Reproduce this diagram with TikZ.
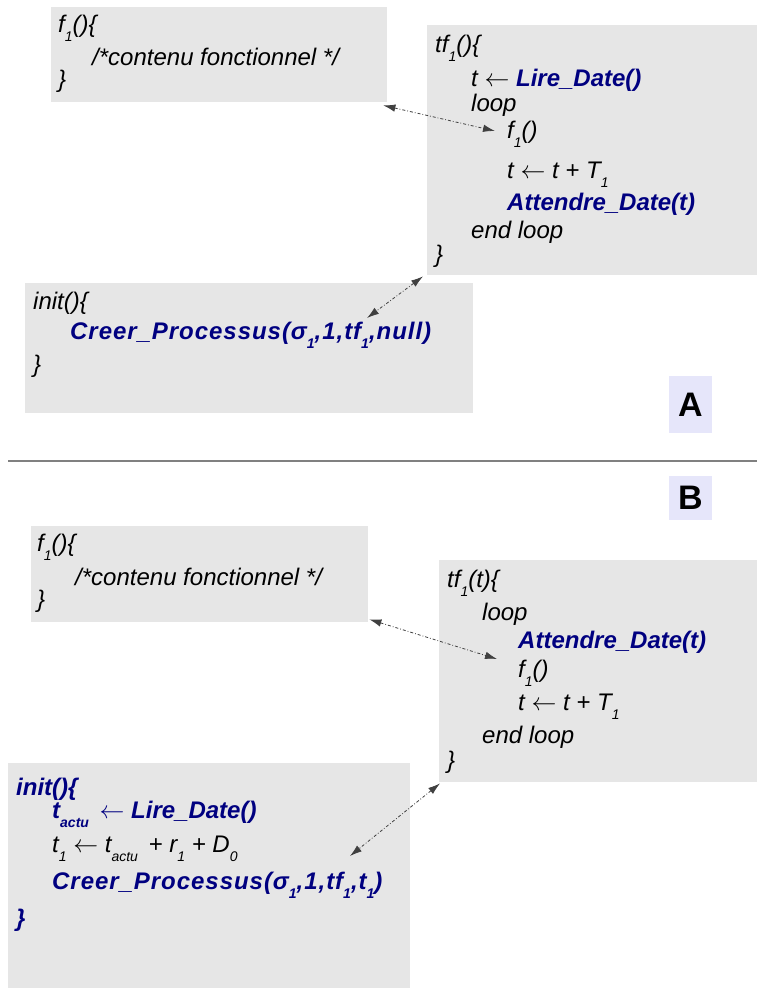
\documentclass[tikz,border=0pt]{standalone}
\usepackage{fontspec}
\setmainfont{Liberation Sans}
\usetikzlibrary{arrows.meta}
\definecolor{boxgray}{HTML}{E6E6E6}
\definecolor{navyblue}{HTML}{000080}
\definecolor{lavender}{HTML}{E6E6FA}
\definecolor{linkgray}{HTML}{404040}
\newcommand\sbs[1]{\raisebox{-9pt}{\fontsize{14pt}{14pt}\selectfont #1}}
\newcommand\kwd[1]{{\color{navyblue}\bfseries #1}}
\tikzset{
  box/.style={fill=boxgray, inner sep=0pt, anchor=north west},
  code/.style={anchor=base west, inner sep=0pt, font=\fontsize{24pt}{29pt}\selectfont\itshape},
  kw/.style={code, text=navyblue, font=\fontsize{24pt}{29pt}\selectfont\bfseries\itshape},
  kwwide/.style={kw, font=\fontsize{24pt}{29pt}\selectfont\bfseries\itshape\addfontfeature{LetterSpace=4}},
  tag/.style={fill=lavender, inner sep=0pt, font=\fontsize{34pt}{36pt}\selectfont\bfseries},
  link/.style={draw=linkgray, line width=0.8pt, dash dot,
    {Latex[length=12pt,width=7.5pt]}-{Latex[length=12pt,width=7.5pt]}},
}
\begin{document}
\begin{tikzpicture}[x=1pt,y=-1pt]
\useasboundingbox (0,0) rectangle (757,988);
% ---------- Part A ----------
\node[box, minimum width=336pt, minimum height=95pt] (A1) at (51,7) {};
\node[code] (a1l1) at (58,32) {f\sbs{1}()\{};
\node[code] (a1l2) at (92,65) {/*contenu fonctionnel */};
\node[code] (a1l3) at (58,87) {\}};

\node[box, minimum width=330pt, minimum height=250pt] (A2) at (427,25) {};
\node[code] (a2l1) at (435,52) {tf\sbs{1}()\{};
\node[code] (a2l2) at (471,86) {t $\leftarrow$ \kwd{Lire\_Date()}};
\node[code] (a2l3) at (471,111) {loop};
\node[code] (a2f) at (507,138) {f\sbs{1}()};
\node[code] (a2l5) at (507,178) {t $\leftarrow$ t + T\sbs{1}};
\node[kw] (a2l6) at (507,210) {Attendre\_Date(t)};
\node[code] (a2l7) at (471,238) {end loop};
\node[code] (a2l8) at (435,262) {\}};

\node[box, minimum width=448pt, minimum height=130pt] (A3) at (25,283) {};
\node[code] (a3l1) at (33,309) {init()\{};
\node[kwwide] (a3c) at (70,339) {Creer\_Processus(σ\sbs{1},1,tf\sbs{1},null)};
\node[code] (a3l3) at (33,372) {\}};

\node[tag, minimum width=43pt, minimum height=57pt] (labA) at (690.5,404.5) {A};

\draw[link] ([xshift=-4pt,yshift=-3pt]A1.south east) -- ([xshift=-12pt,yshift=7pt]a2f.base west);
\draw[link] ([xshift=-4pt,yshift=-1pt]A2.south west) -- ([xshift=297pt,yshift=21pt]a3c.base west);

% separator
\draw[draw=gray, line width=1.5pt] (8,461) -- (757,461);

% ---------- Part B ----------
\node[tag, minimum width=43pt, minimum height=44pt] (labB) at (690.5,498) {B};

\node[box, minimum width=337pt, minimum height=96pt] (B1) at (31,526) {};
\node[code] (b1l1) at (37,551) {f\sbs{1}()\{};
\node[code] (b1l2) at (75,585) {/*contenu fonctionnel */};
\node[code] (b1l3) at (37,607) {\}};

\node[box, minimum width=318pt, minimum height=222pt] (B2) at (439,560) {};
\node[code] (b2l1) at (447,587) {tf\sbs{1}(t)\{};
\node[code] (b2l2) at (482,620) {loop};
\node[kw] (b2l3) at (518,648) {Attendre\_Date(t)};
\node[code] (b2f) at (518,677) {f\sbs{1}()};
\node[code] (b2l5) at (518,710) {t $\leftarrow$ t + T\sbs{1}};
\node[code] (b2l6) at (482,743) {end loop};
\node[code] (b2l7) at (447,768) {\}};

\node[box, minimum width=402pt, minimum height=225pt] (B3) at (8,763) {};
\node[kw] (b3l1) at (16,795) {init()\{};
\node[kw] (b3l2) at (52,818) {t\sbs{actu}\, $\leftarrow$ Lire\_Date()};
\node[code] (b3l3) at (52,852) {t\sbs{1} $\leftarrow$ t\sbs{actu}\, + r\sbs{1} + D\sbs{0}};
\node[kwwide] (b3c) at (52,889) {Creer\_Processus(σ\sbs{1},1,tf\sbs{1},t\sbs{1})};
\node[kw] (b3l5) at (16,926) {\}};

\draw[link] ([xshift=1pt,yshift=3pt]B1.south east) -- ([xshift=-21pt,yshift=18pt]b2f.base west);
\draw[link] ([xshift=1pt,yshift=-1pt]B2.south west) -- ([xshift=298pt,yshift=33pt]b3c.base west);
\end{tikzpicture}
\end{document}
